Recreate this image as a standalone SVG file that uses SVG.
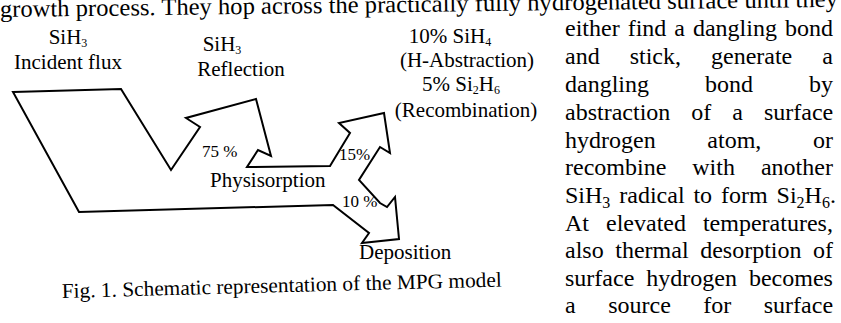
<svg xmlns="http://www.w3.org/2000/svg" width="841" height="323" viewBox="0 0 841 323">
<style>
text{font-family:"Liberation Serif","Times New Roman",serif;fill:#000}
.lbl{font-size:21px}
.pct{font-size:17px}
.body{font-size:24px}
.sub{font-size:12px}
.shape{fill:none;stroke:#000;stroke-width:2;stroke-linejoin:miter}
</style>
<rect width="841" height="323" fill="#fff"/>
<g id="page-top">
<text class="body" x="0" y="17" textLength="838" lengthAdjust="spacingAndGlyphs" transform="rotate(-0.7 0 17)">growth process. They hop across the practically fully hydrogenated surface until they</text>
</g>
<g id="flow-shape">
<path class="shape" d="M13,92 L121,89 L171,170 L200,127 L186,118 L256,99 L271,156 L258,150 L247,167 L330,166 L350,133 L339,123 L384,113 L390,153 L380,147 L359,180 L380,203 L387,207 L395,197 L399,239 L362,243 L369,233 L333,205 L79,212 Z"/>
</g>
<g id="incident">
<text class="lbl" x="68" y="44" text-anchor="middle">SiH<tspan class="sub" dy="3">3</tspan></text>
<text class="lbl" x="68" y="69" text-anchor="middle">Incident flux</text>
</g>
<g id="reflection">
<text class="lbl" x="222" y="51" text-anchor="middle">SiH<tspan class="sub" dy="3">3</tspan></text>
<text class="lbl" x="241" y="76" text-anchor="middle">Reflection</text>
<text class="pct" x="202" y="157">75 %</text>
</g>
<g id="abstraction">
<text class="lbl" x="450" y="43" text-anchor="middle">10% SiH<tspan class="sub" dy="3">4</tspan></text>
<text class="lbl" x="467" y="67" text-anchor="middle">(H-Abstraction)</text>
</g>
<g id="recombination">
<text class="lbl" x="461" y="91" text-anchor="middle">5% Si<tspan class="sub" dy="3">2</tspan><tspan dy="-3">H</tspan><tspan class="sub" dy="3">6</tspan></text>
<text class="lbl" x="466" y="117" text-anchor="middle">(Recombination)</text>
<text class="pct" x="339" y="160">15%</text>
</g>
<g id="physisorption">
<text class="lbl" x="210" y="187">Physisorption</text>
</g>
<g id="deposition">
<text class="pct" x="342" y="207">10 %</text>
<text class="lbl" x="359" y="259">Deposition</text>
</g>
<g id="caption">
<text class="lbl" x="62" y="298" textLength="440" lengthAdjust="spacingAndGlyphs" transform="rotate(-1.5 62 298)">Fig. 1. Schematic representation of the MPG model</text>
</g>
<g id="column-text">
<text class="body" x="565" y="36" word-spacing="2">either find a dangling bond</text>
<text class="body" x="565" y="64" word-spacing="24">and stick, generate a</text>
<text class="body" x="565" y="92" word-spacing="50">dangling bond by</text>
<text class="body" x="565" y="120" word-spacing="15">abstraction of a surface</text>
<text class="body" x="565" y="148" word-spacing="45.7">hydrogen atom, or</text>
<text class="body" x="565" y="175" word-spacing="20">recombine with another</text>
<text class="body" x="565" y="203" word-spacing="2.9">SiH<tspan dy="5" font-size="16">3</tspan><tspan dy="-5"> radical to form Si</tspan><tspan dy="5" font-size="16">2</tspan><tspan dy="-5">H</tspan><tspan dy="5" font-size="16">6</tspan><tspan dy="-5">.</tspan></text>
<text class="body" x="565" y="231" word-spacing="11">At elevated temperatures,</text>
<text class="body" x="565" y="258" word-spacing="5.6">also thermal desorption of</text>
<text class="body" x="565" y="286" word-spacing="6">surface hydrogen becomes</text>
<text class="body" x="565" y="313" word-spacing="26.5">a source for surface</text>
</g>
</svg>
